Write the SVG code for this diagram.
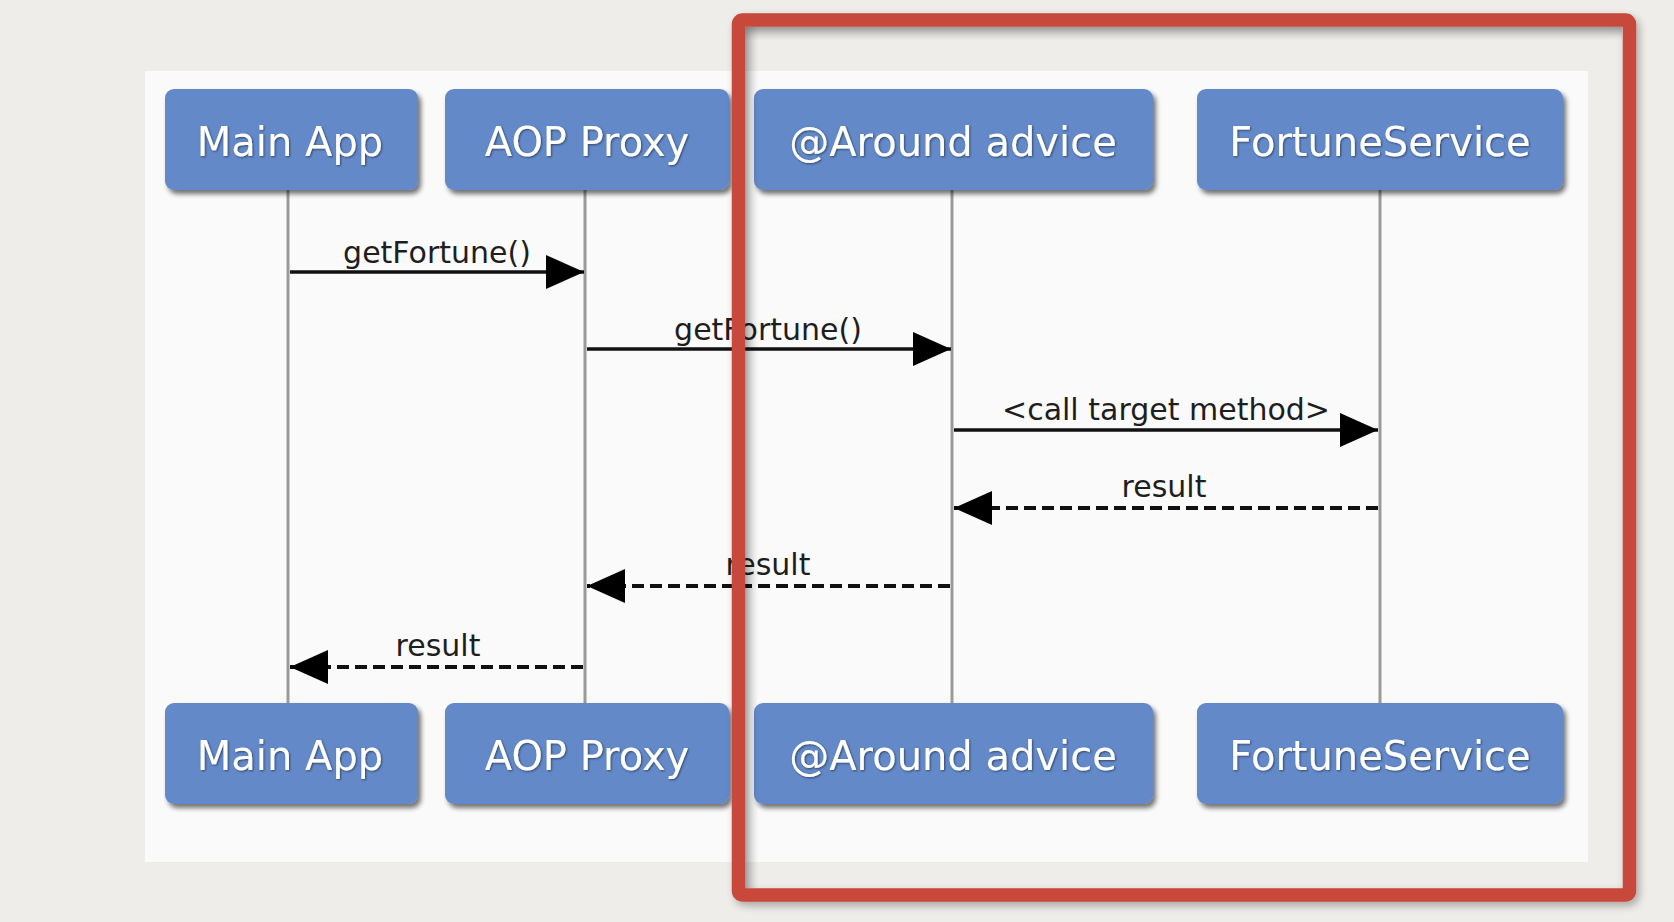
<svg xmlns="http://www.w3.org/2000/svg" width="1674" height="922" viewBox="0 0 1674 922">
<style>
.node rect{fill:#6389c9;filter:url(#nshadow)}
.node text{font-family:"DejaVu Sans",sans-serif;font-size:40px;fill:#ffffff;text-anchor:middle;filter:url(#tshadow)}
.life{stroke:#9a9a9a;stroke-width:3}
.msg{stroke:#111;stroke-width:3.5;fill:none;marker-end:url(#arr)}
.ret{stroke:#111;stroke-width:4;fill:none;stroke-dasharray:12 6;marker-end:url(#arr)}
.lbl{font-family:"DejaVu Sans",sans-serif;font-size:30px;fill:#1e1e1e;text-anchor:middle}
</style>
<defs>
<marker id="arr" markerUnits="userSpaceOnUse" markerWidth="38" markerHeight="34" refX="38" refY="17" orient="auto">
<path d="M0,0 L38,17 L0,34 z" fill="#000"/>
</marker>
<filter id="nshadow" x="-10%" y="-10%" width="125%" height="130%">
<feGaussianBlur in="SourceAlpha" stdDeviation="2.5"/>
<feOffset dx="3" dy="4" result="b"/>
<feComponentTransfer><feFuncA type="linear" slope="0.55"/></feComponentTransfer>
<feMerge><feMergeNode/><feMergeNode in="SourceGraphic"/></feMerge>
</filter>
<filter id="tshadow" x="-5%" y="-20%" width="110%" height="140%">
<feGaussianBlur in="SourceAlpha" stdDeviation="1"/>
<feOffset dx="1" dy="1"/>
<feComponentTransfer><feFuncA type="linear" slope="0.5"/></feComponentTransfer>
<feMerge><feMergeNode/><feMergeNode in="SourceGraphic"/></feMerge>
</filter>
<filter id="fshadow" x="-5%" y="-5%" width="110%" height="110%">
<feGaussianBlur in="SourceAlpha" stdDeviation="4"/>
<feOffset dx="3" dy="4"/>
<feComponentTransfer><feFuncA type="linear" slope="0.3"/></feComponentTransfer>
<feMerge><feMergeNode/><feMergeNode in="SourceGraphic"/></feMerge>
</filter>
<linearGradient id="gl" x1="0" y1="0" x2="1" y2="0">
<stop offset="0" stop-color="#000" stop-opacity="0.14"/>
<stop offset="1" stop-color="#000" stop-opacity="0"/>
</linearGradient>
<linearGradient id="gt" x1="0" y1="0" x2="0" y2="1">
<stop offset="0" stop-color="#000" stop-opacity="0.14"/>
<stop offset="1" stop-color="#000" stop-opacity="0"/>
</linearGradient>
</defs>
<rect width="1674" height="922" fill="#efedea"/>
<rect x="145" y="71" width="1443" height="791" fill="#fafafa"/>
<g id="lifelines">
<line class="life" x1="288" y1="190" x2="288" y2="703"/>
<line class="life" x1="585" y1="190" x2="585" y2="703"/>
<line class="life" x1="952" y1="190" x2="952" y2="703"/>
<line class="life" x1="1380" y1="190" x2="1380" y2="703"/>
</g>
<g id="node-main-top" class="node"><rect x="165" y="89" width="253" height="101" rx="9"/><text x="290" y="156">Main App</text></g>
<g id="node-proxy-top" class="node"><rect x="445" y="89" width="284" height="101" rx="9"/><text x="587" y="156">AOP Proxy</text></g>
<g id="node-around-top" class="node"><rect x="754" y="89" width="399" height="101" rx="9"/><text x="953" y="156">@Around advice</text></g>
<g id="node-fortune-top" class="node"><rect x="1197" y="89" width="366" height="101" rx="9"/><text x="1380" y="156">FortuneService</text></g>
<g id="node-main-bottom" class="node"><rect x="165" y="703" width="253" height="101" rx="9"/><text x="290" y="770">Main App</text></g>
<g id="node-proxy-bottom" class="node"><rect x="445" y="703" width="284" height="101" rx="9"/><text x="587" y="770">AOP Proxy</text></g>
<g id="node-around-bottom" class="node"><rect x="754" y="703" width="399" height="101" rx="9"/><text x="953" y="770">@Around advice</text></g>
<g id="node-fortune-bottom" class="node"><rect x="1197" y="703" width="366" height="101" rx="9"/><text x="1380" y="770">FortuneService</text></g>
<g id="connectors">
<line class="msg" x1="290" y1="272" x2="584" y2="272"/>
<text class="lbl" x="437" y="263">getFortune()</text>
<line class="msg" x1="587" y1="349" x2="951" y2="349"/>
<text class="lbl" x="768" y="340">getFortune()</text>
<line class="msg" x1="954" y1="430" x2="1378" y2="430"/>
<text class="lbl" x="1166" y="420">&lt;call target method&gt;</text>
<line class="ret" x1="1378" y1="508" x2="954" y2="508"/>
<text class="lbl" x="1164" y="497">result</text>
<line class="ret" x1="950" y1="586" x2="587" y2="586"/>
<text class="lbl" x="768" y="575">result</text>
<line class="ret" x1="583" y1="667" x2="290" y2="667"/>
<text class="lbl" x="438" y="656">result</text>
</g>
<g id="highlight">
<rect x="745" y="27" width="14" height="861" fill="url(#gl)"/>
<rect x="745" y="27" width="877" height="14" fill="url(#gt)"/>
<rect x="738.5" y="20" width="891" height="875" rx="4" fill="none" stroke="#c8483a" stroke-width="13.5" filter="url(#fshadow)"/>
</g>
</svg>
